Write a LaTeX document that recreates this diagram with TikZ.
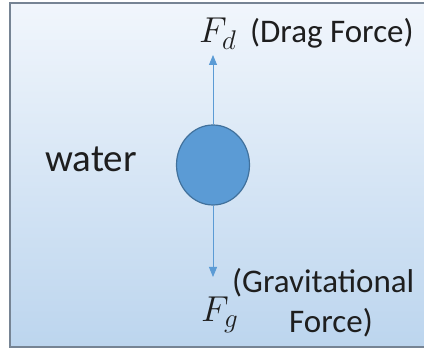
\documentclass[tikz,border=0pt]{standalone}
\usepackage{fix-cm}
\usepackage{fontspec}
\setmainfont{Carlito}
\DeclareMathSizes{36}{36}{27}{20}
\usetikzlibrary{shapes.geometric,positioning,arrows.meta}
\definecolor{fondhaut}{RGB}{241,246,252}
\definecolor{fondbas}{RGB}{188,213,238}
\definecolor{cadre}{RGB}{118,132,148}
\definecolor{bleu}{RGB}{91,155,213}
\definecolor{bleufonce}{RGB}{65,113,156}
\definecolor{texte}{RGB}{30,30,30}
\tikzset{
  goutte/.style={ellipse, draw=bleufonce, line width=1.2pt, fill=bleu,
    minimum width=73pt, minimum height=80pt, inner sep=0pt},
  force/.style={draw=bleu, line width=0.9pt, -{Triangle[length=10pt,width=8pt]}},
  label/.style={text=texte, inner sep=0pt, font=\fontsize{33}{40}\selectfont},
  formule/.style={label, font=\fontsize{36}{42}\selectfont}
}

\begin{document}
\begin{tikzpicture}[x=1pt,y=1pt]
        \useasboundingbox (0,0) rectangle (424,353);

        % Fond
        \shade[top color=fondhaut, bottom color=fondbas] (10,6) rectangle (440,350);
        \draw[cadre, line width=1.4pt] (10,6) rectangle (440,350);

        % Points
        \coordinate (haut) at (213,298);
        \coordinate (bas) at (213,76);

        % Goutte
        \node[goutte] (drop) at (213,188) {};

        % Forces
        \draw[force] (drop.north) -- (haut);
        \draw[force] (drop.south) -- (bas);

        % Labels
        \node[formule, anchor=base west] (fd) at (199,310) {$F_d$};
        \node[label, anchor=base west] (drag) at (250,310) {(Drag Force)};
        \node[label, anchor=base, font=\fontsize{39}{46}\selectfont] (water) at (91,181) {water};
        \node[formule, anchor=base west] (fg) at (201,31) {$F_g$};
        \node[label, anchor=base west] (grav) at (232,60) {(Gravitational};
        \node[label, anchor=base] (force) at (331,20) {Force)};
    \end{tikzpicture}
\end{document}
